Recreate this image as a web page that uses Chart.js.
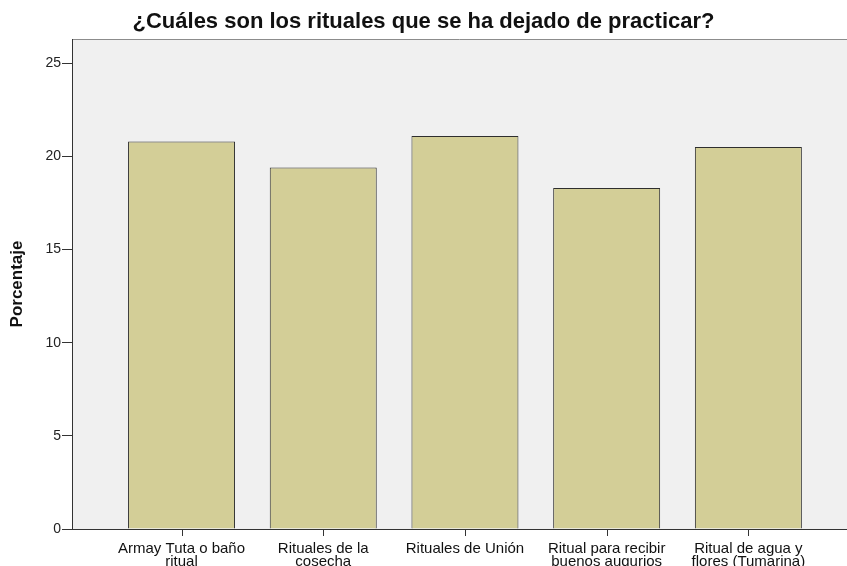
<!DOCTYPE html>
<html>
<head>
<meta charset="utf-8">
<script src="https://cdn.jsdelivr.net/npm/chart.js@4"></script>
<style>
  body { margin: 0; background: #fff; }
  #wrap { width: 847px; height: 566px; }
</style>
</head>
<body>
<div id="wrap"><canvas id="chart"></canvas></div>
<script>
// data
const categories = [
    ['Armay Tuta o baño', 'ritual'],
    ['Rituales de la', 'cosecha'],
    ['Rituales de Unión'],
    ['Ritual para recibir', 'buenos augurios'],
    ['Ritual de agua y', 'flores (Tumarina)']
];
const porcentajes = [20.8, 19.4, 21.1, 18.3, 20.5];
const yTicks = [0, 5, 10, 15, 20, 25];

// gray plot background + top border like SPSS
const plotBg = {
    id: 'plotBg',
    beforeDraw(chart) {
        const a = chart.chartArea;
        const ctx = chart.ctx;
        ctx.save();
        ctx.fillStyle = '#f0f0f0';
        ctx.fillRect(a.left, a.top, a.right - a.left, a.bottom - a.top);
        ctx.strokeStyle = '#8c8c8c';
        ctx.lineWidth = 1;
        ctx.beginPath();
        ctx.moveTo(a.left, a.top + 0.5);
        ctx.lineTo(a.right, a.top + 0.5);
        ctx.stroke();
        ctx.restore();
    },
    // small tick marks under each category
    afterDraw(chart) {
        const xs = chart.scales.x;
        const ctx = chart.ctx;
        ctx.save();
        ctx.strokeStyle = '#333';
        ctx.lineWidth = 1;
        ctx.beginPath();
        xs.ticks.forEach(t => {
            const px = Math.round(xs.getPixelForValue(t.value)) + 0.5;
            ctx.moveTo(px, xs.top);
            ctx.lineTo(px, xs.top + 7);
        });
        ctx.stroke();
        ctx.restore();
    }
};

const ctx = document.getElementById('chart').getContext('2d');
new Chart(ctx, {
    type: 'bar',
    data: {
        datasets: [{
            data: porcentajes.map((v, i) => ({ x: i, y: v })),
            backgroundColor: '#d3ce97',
            borderColor: '#2e2e2e',
            borderWidth: 1,
            categoryPercentage: 1,
            barPercentage: 0.755
        }]
    },
    options: {
        responsive: true,
        maintainAspectRatio: false,
        animation: false,
        layout: { padding: 0 },
        plugins: {
            legend: { display: false },
            tooltip: { enabled: false },
            title: {
                display: true,
                text: '¿Cuáles son los rituales que se ha dejado de practicar?',
                color: '#111',
                font: { family: 'Liberation Sans', size: 22, weight: 'bold', lineHeight: 1.2 },
                padding: { top: 9, bottom: 3.6 }
            }
        },
        scales: {
            x: {
                type: 'linear',
                offset: false,
                min: -0.773,
                max: 4.696,
                grid: { display: false },
                border: { display: true, color: '#333', width: 1 },
                ticks: {
                    stepSize: 1,
                    includeBounds: false,
                    autoSkip: false,
                    maxRotation: 0,
                    padding: 5,
                    color: '#111',
                    font: { family: 'Liberation Sans', size: 15, lineHeight: 0.9 },
                    callback: v => categories[v] || ''
                },
                afterFit: s => { s.height = 37; }
            },
            y: {
                min: 0,
                max: 26.3,
                afterBuildTicks: s => { s.ticks = yTicks.map(v => ({ value: v })); },
                grid: { display: true, drawOnChartArea: false, drawTicks: true, tickLength: 10, color: '#333' },
                border: { display: true, color: '#333', width: 1 },
                ticks: {
                    padding: 1,
                    color: '#222',
                    font: { family: 'Liberation Sans', size: 14 }
                },
                title: {
                    display: true,
                    text: 'Porcentaje',
                    color: '#111',
                    font: { family: 'Liberation Sans', size: 17, weight: 'bold', lineHeight: 1.2 },
                    padding: { top: 7, bottom: 0 }
                },
                afterFit: s => { s.width = 72; }
            }
        }
    },
    plugins: [plotBg]
});
</script>
</body>
</html>
